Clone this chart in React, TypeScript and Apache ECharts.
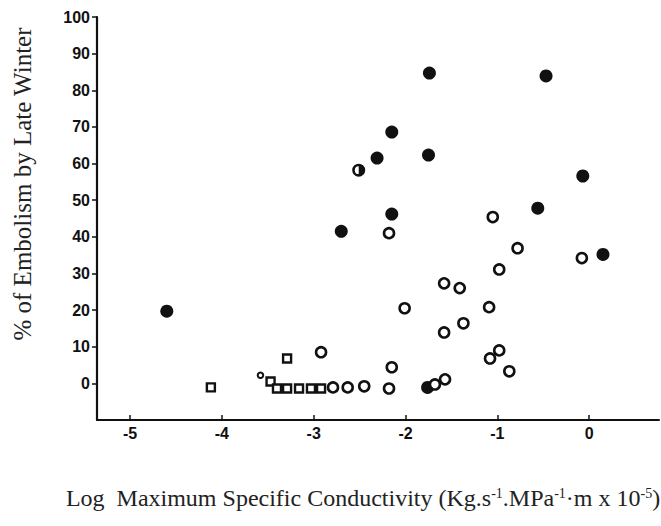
import React, { useEffect, useRef } from "react";
import * as echarts from "echarts";

// Tick values
const xTicks = [-5, -4, -3, -2, -1, 0];
const yTicks = [0, 10, 20, 30, 40, 50, 60, 70, 80, 90, 100];

// Filled circles
const filledPts: number[][] = [
  [-4.6, 19.7],
  [-2.7, 41.5],
  [-2.31, 61.5],
  [-2.15, 68.6],
  [-2.15, 46.2],
  [-1.74, 84.7],
  [-1.75, 62.3],
  [-1.76, -1.1],
  [-0.47, 83.9],
  [-0.56, 47.8],
  [-0.07, 56.6],
  [0.15, 35.2],
];

// Half-filled circles
const halfPts: number[][] = [[-2.51, 58.2]];

// Open circles
const openPts: number[][] = [
  [-2.92, 8.5],
  [-2.18, 41.0],
  [-2.18, -1.4],
  [-2.15, 4.4],
  [-2.45, -0.8],
  [-2.63, -1.1],
  [-2.79, -1.1],
  [-1.68, -0.3],
  [-1.57, 1.1],
  [-2.01, 20.5],
  [-1.58, 27.3],
  [-1.41, 26.0],
  [-1.58, 13.9],
  [-1.37, 16.4],
  [-1.09, 20.8],
  [-1.08, 6.8],
  [-0.98, 9.0],
  [-0.87, 3.3],
  [-0.98, 31.1],
  [-0.78, 36.9],
  [-1.05, 45.4],
  [-0.08, 34.2],
];

// Small open circles
const smallOpenPts: number[][] = [[-3.58, 2.2]];

// Open squares
const squarePts: number[][] = [
  [-4.12, -1.1],
  [-3.29, 6.8],
  [-3.47, 0.5],
  [-3.4, -1.4],
  [-3.29, -1.4],
  [-3.16, -1.4],
  [-3.03, -1.4],
  [-2.92, -1.4],
];

const halfSymbol =
  "path://M10 0 A10 10 0 1 1 10 20 A10 10 0 1 1 10 0 Z M10 4 A6 6 0 0 0 10 16 Z";

export default function App() {
  const ref = useRef<HTMLDivElement>(null);

  useEffect(() => {
    if (!ref.current) return;
    const chart = echarts.init(ref.current, null, { renderer: "svg" });
    const ink = "#111";
    chart.setOption({
      animation: false,
      backgroundColor: "#fff",
      grid: {
        left: 97,
        top: 17,
        right: 2,
        bottom: 106,
        containLabel: false,
        outerBoundsMode: "none",
      },
      xAxis: {
        type: "value",
        min: -5.36,
        max: 0.76,
        splitLine: { show: false },
        axisLine: { show: true, onZero: false, lineStyle: { color: ink, width: 2 } },
        axisTick: {
          show: true,
          inside: true,
          length: 5,
          customValues: xTicks,
          lineStyle: { color: ink, width: 1.5 },
        },
        axisLabel: {
          customValues: xTicks,
          margin: 5,
          color: ink,
          fontFamily: "Liberation Sans",
          fontWeight: "bold",
          fontSize: 16,
          formatter: (v: number) => String(v),
        },
      },
      yAxis: {
        type: "value",
        min: -10,
        max: 100,
        splitLine: { show: false },
        axisLine: { show: true, onZero: false, lineStyle: { color: ink, width: 2.2 } },
        axisTick: {
          show: true,
          inside: false,
          length: 5,
          customValues: yTicks,
          lineStyle: { color: ink, width: 1.5 },
        },
        axisLabel: {
          customValues: yTicks,
          margin: 7,
          color: ink,
          fontFamily: "Liberation Sans",
          fontWeight: "bold",
          fontSize: 16,
        },
      },
      graphic: [
        {
          type: "text",
          x: 22,
          y: 184,
          rotation: Math.PI / 2,
          silent: true,
          style: {
            text: "% of Embolism by Late Winter",
            fill: "#222",
            fontFamily: "Liberation Serif",
            fontSize: 25,
            align: "center",
            verticalAlign: "middle",
          },
        },
        {
          type: "text",
          x: 363,
          y: 498,
          silent: true,
          style: {
            text:
              "Log  Maximum Specific Conductivity (Kg.s{sup|-1}.MPa{sup|-1}·m x 10{sup|-5})",
            fill: "#222",
            fontFamily: "Liberation Serif",
            fontSize: 24,
            align: "center",
            verticalAlign: "middle",
            rich: {
              sup: {
                fontFamily: "Liberation Serif",
                fontSize: 14,
                verticalAlign: "top",
                fill: "#222",
              },
            },
          },
        },
      ],
      series: [
        {
          name: "filled",
          type: "scatter",
          silent: true,
          symbol: "circle",
          symbolSize: 13,
          itemStyle: { color: ink, opacity: 1 },
          data: filledPts,
          z: 2,
        },
        {
          name: "half",
          type: "scatter",
          silent: true,
          symbol: halfSymbol,
          symbolSize: 13,
          itemStyle: { color: ink, opacity: 1 },
          data: halfPts,
          z: 2,
        },
        {
          name: "open",
          type: "scatter",
          silent: true,
          symbol: "circle",
          symbolSize: 10,
          itemStyle: { color: "#fff", borderColor: ink, borderWidth: 2.6, opacity: 1 },
          data: openPts,
          z: 3,
        },
        {
          name: "smallOpen",
          type: "scatter",
          silent: true,
          symbol: "circle",
          symbolSize: 5.5,
          itemStyle: { color: "#fff", borderColor: ink, borderWidth: 2, opacity: 1 },
          data: smallOpenPts,
          z: 3,
        },
        {
          name: "square",
          type: "scatter",
          silent: true,
          symbol: "rect",
          symbolSize: 8,
          itemStyle: { color: "#fff", borderColor: ink, borderWidth: 2.4, opacity: 1 },
          data: squarePts,
          z: 3,
        },
      ],
    });
    return () => chart.dispose();
  }, []);

  return (
    <div
      ref={ref}
      style={{ position: "fixed", left: 0, top: 0, width: 661, height: 526 }}
    />
  );
}
